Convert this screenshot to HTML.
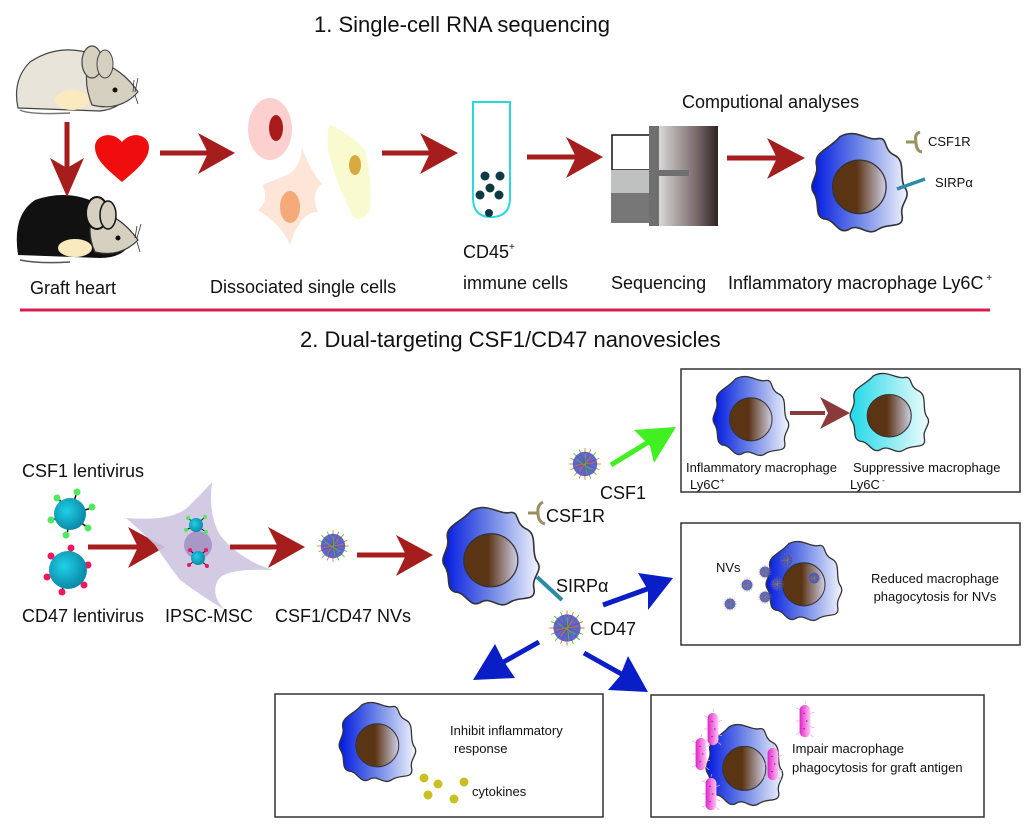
<!DOCTYPE html>
<html><head><meta charset="utf-8"><style>
html,body{margin:0;padding:0;background:#fff;}
svg{display:block;font-family:"Liberation Sans",Arial,sans-serif;}
</style></head><body>
<svg width="1029" height="835" viewBox="0 0 1029 835" xmlns="http://www.w3.org/2000/svg">
<defs>
<linearGradient id="mg" x1="0" x2="1" y1="0" y2="0"><stop offset="0" stop-color="#0018e0"/><stop offset="0.5" stop-color="#6f86e6"/><stop offset="1" stop-color="#f2f4fc"/></linearGradient>
<linearGradient id="cg" x1="0" x2="1" y1="0" y2="0"><stop offset="0" stop-color="#20d8e8"/><stop offset="1" stop-color="#f0fcfd"/></linearGradient>
<linearGradient id="ng" x1="0" x2="1"><stop offset="0.45" stop-color="#5b3414"/><stop offset="1" stop-color="#d0d0e6"/></linearGradient>
<linearGradient id="sg" x1="0" x2="1"><stop offset="0" stop-color="#d8d8d8"/><stop offset="0.6" stop-color="#807070"/><stop offset="1" stop-color="#2e2424"/></linearGradient>
<radialGradient id="vg" cx="0.4" cy="0.4" r="0.6"><stop offset="0" stop-color="#20d0e8"/><stop offset="1" stop-color="#0a8aa8"/></radialGradient>
<linearGradient id="pg" x1="0" x2="1"><stop offset="0" stop-color="#e020c8"/><stop offset="1" stop-color="#ffc8f4"/></linearGradient>
<path id="mpath" d="M30,8 C45,0 55,12 65,10 C75,8 70,20 80,25 C92,30 85,45 90,55 C98,65 85,70 88,82 C90,95 75,88 65,95 C55,102 48,88 38,95 C28,100 25,85 15,85 C5,82 12,70 5,60 C0,52 10,45 8,35 C5,22 20,20 30,8 Z"/>
<symbol id="mac" viewBox="0 0 100 100" preserveAspectRatio="none" overflow="visible">
<use href="#mpath" fill="url(#mg)" stroke="#333" stroke-width="1.5"/>
<ellipse cx="48" cy="55" rx="25" ry="25" fill="url(#ng)" stroke="#333" stroke-width="1.2"/>
</symbol>
<symbol id="macc" viewBox="0 0 100 100" preserveAspectRatio="none" overflow="visible">
<use href="#mpath" fill="url(#cg)" stroke="#333" stroke-width="1.5"/>
<ellipse cx="48" cy="55" rx="25" ry="25" fill="url(#ng)" stroke="#333" stroke-width="1.2"/>
</symbol>
<symbol id="nv" viewBox="-25 -25 50 50" overflow="visible">
<g stroke-width="1.2">
<line x1="0" y1="0" x2="0" y2="-22" stroke="#e07a20"/><line x1="0" y1="0" x2="15" y2="-16" stroke="#50c820"/>
<line x1="0" y1="0" x2="22" y2="0" stroke="#e07a20"/><line x1="0" y1="0" x2="16" y2="15" stroke="#50c820"/>
<line x1="0" y1="0" x2="0" y2="22" stroke="#e07a20"/><line x1="0" y1="0" x2="-15" y2="16" stroke="#50c820"/>
<line x1="0" y1="0" x2="-22" y2="0" stroke="#e07a20"/><line x1="0" y1="0" x2="-16" y2="-15" stroke="#50c820"/>
<line x1="0" y1="0" x2="-8" y2="-20" stroke="#50c820"/><line x1="0" y1="0" x2="20" y2="-8" stroke="#e07a20"/>
<line x1="0" y1="0" x2="8" y2="20" stroke="#50c820"/><line x1="0" y1="0" x2="-20" y2="8" stroke="#e07a20"/>
<line x1="0" y1="0" x2="8" y2="-20" stroke="#e07a20"/><line x1="0" y1="0" x2="-20" y2="-8" stroke="#50c820"/>
<line x1="0" y1="0" x2="-8" y2="20" stroke="#e07a20"/><line x1="0" y1="0" x2="20" y2="8" stroke="#50c820"/>
</g>
<circle r="17" fill="#4a4cc4" opacity="0.85"/>
<g stroke-width="1"><line x1="-12" y1="-6" x2="10" y2="8" stroke="#50c820"/><line x1="-8" y1="10" x2="8" y2="-10" stroke="#e07a20"/><line x1="0" y1="-14" x2="2" y2="14" stroke="#50c820"/><line x1="-14" y1="2" x2="14" y2="-2" stroke="#e07a20"/></g>
</symbol>
<symbol id="bac" viewBox="-10 -20 20 40" preserveAspectRatio="none" overflow="visible">
<g stroke="#f4a0e8" stroke-width="0.8"><line x1="-6" y1="-12" x2="-10" y2="-14"/><line x1="6" y1="-8" x2="10" y2="-9"/><line x1="-6" y1="0" x2="-10" y2="0"/><line x1="6" y1="6" x2="10" y2="7"/><line x1="-6" y1="12" x2="-10" y2="14"/><line x1="0" y1="-18" x2="1" y2="-21"/><line x1="6" y1="14" x2="9" y2="17"/></g>
<rect x="-6" y="-17" width="12" height="34" rx="6" fill="url(#pg)"/>
<g fill="#7a2a8a"><circle cx="-1" cy="-8" r="0.8"/><circle cx="2" cy="0" r="0.8"/><circle cx="-1" cy="8" r="0.8"/></g>
</symbol>
</defs>

<text x="314" y="32" font-size="22" fill="#111">1. Single-cell RNA sequencing</text>
<text x="300" y="347" font-size="22" fill="#111">2. Dual-targeting CSF1/CD47 nanovesicles</text>
<line x1="20" y1="310" x2="990" y2="310" stroke="#d81e4e" stroke-width="3"/>

<g>
<path d="M18,108 Q12,80 30,62 Q60,42 95,55 L130,88 Q125,108 100,111 Z" fill="#e8e4da" stroke="#444" stroke-width="1.2"/>
<path d="M20,110 Q30,115 70,113" fill="none" stroke="#777" stroke-width="1.5"/>
<ellipse cx="72" cy="100" rx="17" ry="10" fill="#fbe9c0"/>
<path d="M90,60 Q120,65 138,92 Q120,112 92,105 Q82,80 90,60Z" fill="#d6d0c0" stroke="#444" stroke-width="1.2"/>
<ellipse cx="92" cy="62" rx="10" ry="16" fill="#d6d0c0" stroke="#444" stroke-width="1.2"/>
<ellipse cx="105" cy="64" rx="8" ry="14" fill="#d6d0c0" stroke="#444" stroke-width="1"/>
<circle cx="115" cy="90" r="2.5" fill="#111"/>
<g stroke="#333" stroke-width="0.8"><line x1="135" y1="92" x2="138" y2="78"/><line x1="133" y1="92" x2="134" y2="80"/><line x1="135" y1="95" x2="138" y2="104"/></g>
</g>
<g>
<path d="M18,255 Q12,215 35,200 Q70,188 100,205 L132,240 Q125,258 100,258 Z" fill="#111"/>
<path d="M20,260 Q40,264 70,262" fill="none" stroke="#555" stroke-width="1.5"/>
<ellipse cx="75" cy="248" rx="17" ry="9" fill="#fbe9c0"/>
<path d="M95,210 Q120,215 138,240 Q120,258 95,252 Q85,230 95,210Z" fill="#d6d0c0" stroke="#333" stroke-width="1.2"/>
<ellipse cx="97" cy="213" rx="11" ry="16" fill="#d6d0c0" stroke="#111" stroke-width="2"/>
<ellipse cx="108" cy="215" rx="8" ry="14" fill="#d6d0c0" stroke="#111" stroke-width="1.5"/>
<circle cx="118" cy="238" r="2.5" fill="#111"/>
<g stroke="#333" stroke-width="0.8"><line x1="137" y1="238" x2="141" y2="224"/><line x1="135" y1="238" x2="137" y2="226"/><line x1="137" y1="242" x2="140" y2="252"/></g>
</g>
<line x1="67" y1="122" x2="67" y2="168" stroke="#a51d1d" stroke-width="5"/>
<polygon points="50,158 67,197 84,158 67,168" fill="#a51d1d"/>
<path d="M122,182 C108,170 95,160 95,147 C95,135 112,130 122,142 C132,130 149,135 149,147 C149,160 136,170 122,182Z" fill="#f00d0d"/>
<text x="30" y="294" font-size="18" fill="#111">Graft heart</text>

<line x1="160" y1="153" x2="210" y2="153" stroke="#a51d1d" stroke-width="5"/>
<polygon points="198,133 235,153 198,174 208,153" fill="#a51d1d"/>
<ellipse cx="270" cy="129" rx="22" ry="31" fill="#fdd0d0"/>
<ellipse cx="276" cy="128" rx="7" ry="13" fill="#a81b1b"/>
<path d="M285,176 Q300,170 302,148 Q310,170 322,184 Q310,192 318,212 Q300,212 290,245 Q282,225 258,210 Q270,200 262,185 Z" fill="#fde6d8"/>
<ellipse cx="290" cy="207" rx="10" ry="16" fill="#f5a979"/>
<path d="M330,125 Q345,130 365,150 Q372,175 370,210 Q360,225 352,215 Q335,180 328,150 Q326,130 330,125Z" fill="#fafad0"/>
<ellipse cx="355" cy="165" rx="6" ry="10" fill="#d8aa40"/>
<text x="210" y="293" font-size="18" fill="#111">Dissociated single cells</text>
<line x1="382" y1="153" x2="432" y2="153" stroke="#a51d1d" stroke-width="5"/>
<polygon points="420,133 458,153 420,174 430,153" fill="#a51d1d"/>
<path d="M473,102 L510,102 L510,198 Q510,217 491,217 Q473,217 473,198 Z" fill="#fff" stroke="#2ad8e0" stroke-width="2"/>
<g fill="#0e3a44"><circle cx="485" cy="176" r="4.5"/><circle cx="500" cy="176" r="4.5"/><circle cx="490" cy="188" r="4.5"/><circle cx="480" cy="195" r="4.5"/><circle cx="499" cy="195" r="4.5"/><circle cx="489" cy="213" r="4"/></g>
<text x="463" y="258" font-size="18" fill="#111">CD45<tspan font-size="10" dy="-8">+</tspan></text>
<text x="463" y="289" font-size="18" fill="#111">immune cells</text>
<line x1="527" y1="157" x2="580" y2="157" stroke="#a51d1d" stroke-width="5"/>
<polygon points="566,137 603,157 566,178 576,157" fill="#a51d1d"/>
<rect x="612" y="135" width="38" height="35" fill="#fff" stroke="#111" stroke-width="1.5"/>
<rect x="611" y="170" width="39" height="23" fill="#bfc0c0"/>
<rect x="611" y="193" width="40" height="30" fill="#777"/>
<rect x="649" y="126" width="10" height="100" fill="#6f6f6f"/>
<rect x="659" y="126" width="59" height="100" fill="url(#sg)"/>
<rect x="659" y="170" width="30" height="6" fill="#6f6f6f"/>
<text x="611" y="289" font-size="18" fill="#111">Sequencing</text>
<text x="682" y="108" font-size="18" fill="#111">Computional analyses</text>
<line x1="727" y1="158" x2="780" y2="158" stroke="#a51d1d" stroke-width="5"/>
<polygon points="767,138 805,158 767,179 777,158" fill="#a51d1d"/>
<use href="#mac" x="808" y="128" width="107" height="107"/>
<path d="M906,142 L916,142 M916,142 Q914,134 920,132 M916,142 Q916,151 922,152" fill="none" stroke="#9a9060" stroke-width="3"/>
<text x="928" y="146" font-size="13" fill="#111">CSF1R</text>
<line x1="897" y1="189" x2="925" y2="179" stroke="#2a8aa8" stroke-width="3.5"/>
<text x="935" y="187" font-size="13" fill="#111">SIRPα</text>
<text x="728" y="289" font-size="18" fill="#111">Inflammatory macrophage Ly6C<tspan font-size="10" dy="-8"> +</tspan></text>

<text x="22" y="477" font-size="18" fill="#111">CSF1 lentivirus</text>
<g stroke="#111" stroke-width="1.5">
<line x1="70" y1="514" x2="77" y2="492"/><line x1="70" y1="514" x2="92" y2="508"/><line x1="70" y1="514" x2="88" y2="528"/><line x1="70" y1="514" x2="67" y2="535"/><line x1="70" y1="514" x2="52" y2="520"/><line x1="70" y1="514" x2="58" y2="498"/>
</g>
<g fill="#50e860"><circle cx="77" cy="492" r="3.5"/><circle cx="92" cy="507" r="3.5"/><circle cx="88" cy="528" r="3.5"/><circle cx="66" cy="535" r="3.5"/><circle cx="51" cy="520" r="3.5"/><circle cx="57" cy="498" r="3.5"/></g>
<circle cx="70" cy="514" r="16" fill="url(#vg)"/>
<g stroke="#111" stroke-width="1.5">
<line x1="68" y1="570" x2="71" y2="549"/><line x1="68" y1="570" x2="88" y2="565"/><line x1="68" y1="570" x2="84" y2="585"/><line x1="68" y1="570" x2="62" y2="591"/><line x1="68" y1="570" x2="48" y2="576"/><line x1="68" y1="570" x2="52" y2="557"/>
</g>
<g fill="#ee1860"><circle cx="71" cy="548" r="3.5"/><circle cx="88" cy="565" r="3.5"/><circle cx="84" cy="585" r="3.5"/><circle cx="62" cy="592" r="3.5"/><circle cx="47" cy="577" r="3.5"/><circle cx="51" cy="556" r="3.5"/></g>
<circle cx="68" cy="570" r="19" fill="url(#vg)"/>
<text x="22" y="622" font-size="18" fill="#111">CD47 lentivirus</text>
<line x1="88" y1="547" x2="140" y2="547" stroke="#a51d1d" stroke-width="5"/>
<polygon points="128,527 165,547 128,568 138,547" fill="#a51d1d"/>
<path d="M126,518 Q175,522 190,505 Q205,490 212,482 Q208,515 220,535 Q240,560 273,570 Q225,568 218,580 Q210,595 225,610 Q200,595 180,580 Q165,560 155,545 Q140,530 126,518Z" fill="#cdc5e0" opacity="0.9"/>
<circle cx="198" cy="545" r="14" fill="#a898c8"/>
<g stroke="#111" stroke-width="1"><line x1="196" y1="525" x2="188" y2="518"/><line x1="196" y1="525" x2="205" y2="517"/><line x1="196" y1="525" x2="186" y2="530"/><line x1="196" y1="525" x2="206" y2="532"/></g>
<g fill="#50e860"><circle cx="188" cy="518" r="2"/><circle cx="205" cy="517" r="2"/><circle cx="186" cy="530" r="2"/><circle cx="206" cy="532" r="2"/></g>
<circle cx="196" cy="525" r="7" fill="url(#vg)"/>
<g stroke="#111" stroke-width="1"><line x1="198" y1="558" x2="190" y2="550"/><line x1="198" y1="558" x2="206" y2="550"/><line x1="198" y1="558" x2="189" y2="565"/><line x1="198" y1="558" x2="207" y2="566"/></g>
<g fill="#ee1860"><circle cx="190" cy="550" r="2"/><circle cx="206" cy="550" r="2"/><circle cx="189" cy="565" r="2"/><circle cx="207" cy="566" r="2"/></g>
<circle cx="198" cy="558" r="7" fill="url(#vg)"/>
<text x="165" y="622" font-size="18" fill="#111">IPSC-MSC</text>
<line x1="230" y1="547" x2="282" y2="547" stroke="#a51d1d" stroke-width="5"/>
<polygon points="268,527 305,547 268,568 278,547" fill="#a51d1d"/>
<use href="#nv" x="315" y="528" width="36" height="36"/>
<text x="275" y="622" font-size="18" fill="#111">CSF1/CD47 NVs</text>
<line x1="357" y1="555" x2="410" y2="555" stroke="#a51d1d" stroke-width="5"/>
<polygon points="396,535 433,555 396,576 406,555" fill="#a51d1d"/>

<use href="#mac" x="439" y="502" width="108" height="106"/>
<path d="M528,513 L538,513 M538,513 Q537,505 543,502 M538,513 Q538,522 545,524" fill="none" stroke="#9a9060" stroke-width="3"/>
<text x="546" y="522" font-size="18" fill="#111">CSF1R</text>
<use href="#nv" x="567" y="446" width="36" height="36"/>
<text x="600" y="499" font-size="18" fill="#111">CSF1</text>
<line x1="611" y1="465" x2="655" y2="438" stroke="#40f020" stroke-width="5"/>
<polygon points="634,430 676,427 654,463 650,446" fill="#40f020"/>
<line x1="537" y1="577" x2="562" y2="600" stroke="#2a8aa8" stroke-width="4"/>
<text x="556" y="592" font-size="18" fill="#111">SIRPα</text>
<use href="#nv" x="547" y="608" width="40" height="40"/>
<text x="590" y="635" font-size="18" fill="#111">CD47</text>
<line x1="603" y1="605" x2="650" y2="588" stroke="#0a1ec8" stroke-width="5"/>
<polygon points="638,573 673,578 648,610 648,590" fill="#0a1ec8"/>
<line x1="539" y1="642" x2="500" y2="664" stroke="#0a1ec8" stroke-width="5"/>
<polygon points="473,680 495,644 503,660 515,678" fill="#0a1ec8"/>
<line x1="584" y1="653" x2="625" y2="676" stroke="#0a1ec8" stroke-width="5"/>
<polygon points="648,692 628,656 620,676 608,690" fill="#0a1ec8"/>

<rect x="681" y="369" width="339" height="123" fill="#fff" stroke="#333" stroke-width="1.5"/>
<use href="#mac" x="710" y="372" width="85" height="86"/>
<line x1="790" y1="413" x2="825" y2="413" stroke="#8a3a3a" stroke-width="4"/>
<polygon points="820,397 850,413 820,429 828,413" fill="#8a3a3a"/>
<use href="#macc" x="847" y="369" width="88" height="85"/>
<text x="686" y="472" font-size="13" fill="#111">Inflammatory macrophage</text>
<text x="853" y="472" font-size="13" fill="#111">Suppressive macrophage</text>
<text x="690" y="489" font-size="13" fill="#111">Ly6C<tspan font-size="8" dy="-6">+</tspan></text>
<text x="850" y="489" font-size="13" fill="#111">Ly6C<tspan font-size="8" dy="-6"> -</tspan></text>

<rect x="681" y="523" width="339" height="122" fill="#fff" stroke="#333" stroke-width="1.5"/>
<use href="#mac" x="763" y="537" width="85" height="86"/>
<text x="716" y="572" font-size="13" fill="#111">NVs</text>
<use href="#nv" x="739" y="577" width="16" height="16"/>
<use href="#nv" x="722" y="596" width="16" height="16"/>
<use href="#nv" x="757" y="564" width="16" height="16"/>
<use href="#nv" x="757" y="589" width="16" height="16"/>
<use href="#nv" x="769" y="576" width="16" height="16"/>
<use href="#nv" x="779" y="552" width="16" height="16"/>
<use href="#nv" x="806" y="570" width="16" height="16"/>
<text x="935" y="583" font-size="13" fill="#111" text-anchor="middle">Reduced macrophage</text>
<text x="935" y="601" font-size="13" fill="#111" text-anchor="middle">phagocytosis for NVs</text>

<rect x="275" y="694" width="328" height="123" fill="#fff" stroke="#333" stroke-width="1.5"/>
<use href="#mac" x="336" y="698" width="86" height="86"/>
<text x="450" y="735" font-size="13" fill="#111">Inhibit inflammatory</text>
<text x="454" y="753" font-size="13" fill="#111">response</text>
<g fill="#c8c020"><circle cx="424" cy="778" r="4.5"/><circle cx="438" cy="784" r="4.5"/><circle cx="464" cy="782" r="4.5"/><circle cx="428" cy="795" r="4.5"/><circle cx="454" cy="799" r="4.5"/></g>
<text x="472" y="796" font-size="13" fill="#111">cytokines</text>

<rect x="651" y="695" width="333" height="122" fill="#fff" stroke="#333" stroke-width="1.5"/>
<use href="#mac" x="703" y="720" width="86" height="88"/>
<use href="#bac" x="704" y="710" width="18" height="38"/>
<use href="#bac" x="692" y="735" width="18" height="38"/>
<use href="#bac" x="702" y="775" width="18" height="38"/>
<use href="#bac" x="764" y="745" width="18" height="38"/>
<use href="#bac" x="796" y="702" width="18" height="38"/>
<text x="792" y="753" font-size="13" fill="#111">Impair macrophage</text>
<text x="792" y="772" font-size="13" fill="#111">phagocytosis for graft antigen</text>
</svg>
</body></html>
